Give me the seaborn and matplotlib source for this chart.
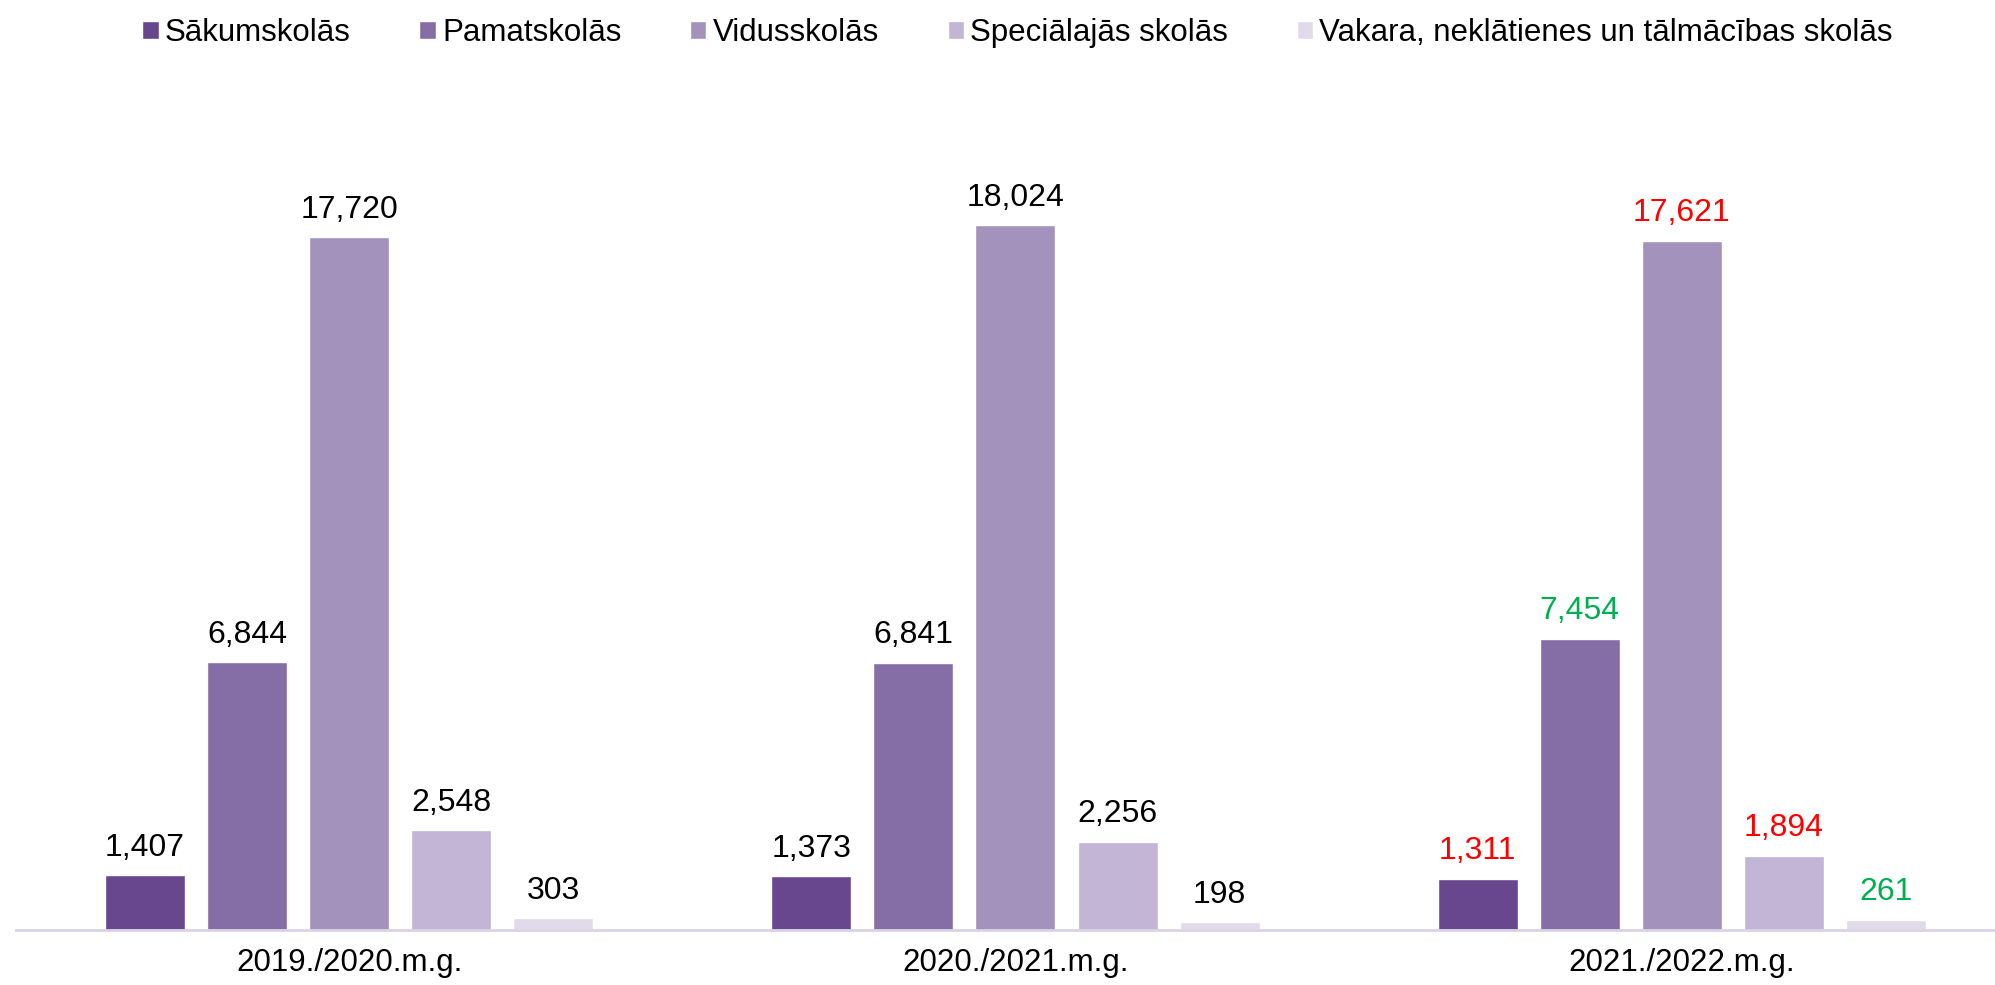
import matplotlib
matplotlib.use('Agg')
import matplotlib.pyplot as plt
import seaborn as sns
import pandas as pd

# dati
gadi = ['2019./2020.m.g.', '2020./2021.m.g.', '2021./2022.m.g.']
skolas = ['Sākumskolās', 'Pamatskolās', 'Vidusskolās', 'Speciālajās skolās',
          'Vakara, neklātienes un tālmācības skolās']
sakum = [1407, 1373, 1311]
pamat = [6844, 6841, 7454]
vidus = [17720, 18024, 17621]
special = [2548, 2256, 1894]
vakara = [303, 198, 261]
# etiķešu krāsas pēdējā gadā (samazinājums / pieaugums)
label_colors_last = ['#FF0000', '#00B050', '#FF0000', '#FF0000', '#00B050']

colors = ['#68478F', '#856EA6', '#A392BC', '#C3B5D5', '#E1DAEA']

rows = []
for name, vals in zip(skolas, [sakum, pamat, vidus, special, vakara]):
    for g, v in zip(gadi, vals):
        rows.append({'gads': g, 'skola': name, 'skaits': v})
df = pd.DataFrame(rows)

sns.set_style('white')
plt.rcParams['font.family'] = ['Liberation Sans', 'DejaVu Sans']
plt.rcParams['text.color'] = 'black'
plt.rcParams['xtick.color'] = 'black'

fig = plt.figure(figsize=(19.95, 9.85), dpi=100)
ax = fig.add_axes([0.008, 0.0558, 1.002, 0.794])

sns.barplot(data=df, x='gads', y='skaits', hue='skola', hue_order=skolas,
            palette=colors, width=0.766, gap=0.216, ax=ax, legend=True,
            saturation=1, errorbar=None)

ax.set_ylim(0, 20000)
ax.set_xlim(-0.5, 2.5)

for i, cont in enumerate(ax.containers):
    for j, bar in enumerate(cont):
        h = bar.get_height()
        c = label_colors_last[i] if j == 2 else 'black'
        ax.annotate(f'{int(h):,}', (bar.get_x() + bar.get_width() / 2, h),
                    xytext=(0, 9), textcoords='offset points',
                    ha='center', va='bottom', fontsize=23, color=c)

for s in ['top', 'right', 'left']:
    ax.spines[s].set_visible(False)
ax.spines['bottom'].set_color('#D9D3E6')
ax.spines['bottom'].set_linewidth(2)
ax.set_yticks([])
ax.set_xlabel('')
ax.set_ylabel('')
ax.tick_params(axis='x', length=0, labelsize=22.5, pad=13, labelcolor='black')

leg = ax.legend(loc='upper center', bbox_to_anchor=(0.51, 1.01), bbox_transform=fig.transFigure,
                ncol=5, frameon=False, fontsize=22.5, handlelength=0.52, handleheight=0.52,
                handletextpad=0.2, columnspacing=2.2)
for t in leg.get_texts():
    t.set_color('black')

fig.savefig('out.png', dpi=100)
